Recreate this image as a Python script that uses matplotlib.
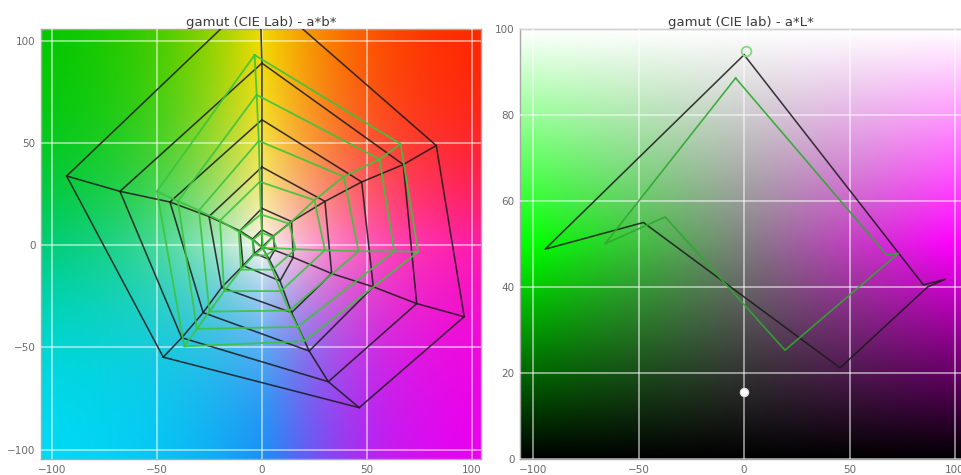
import numpy as np
import matplotlib
matplotlib.use("Agg")
import matplotlib.pyplot as plt

# ---------------------------------------------------------------------------
# a*b* projection: gamut rings (outer -> inner), vertices ordered
# yellow, red, magenta, blue, cyan, green
# ---------------------------------------------------------------------------
BLACK_RINGS_A = [
    [-1.0, 83.0, 96.3, 46.3, -47.0, -93.0],
    [0.0, 67.3, 73.7, 31.6, -38.2, -67.6],
    [0.0, 47.5, 53.0, 22.5, -28.0, -43.8],
    [0.0, 30.0, 33.2, 14.1, -19.2, -25.2],
    [0.0, 14.1, 14.9, 8.6, -9.0, -10.5],
    [0.0, 5.5, 6.0, 3.5, -3.5, -4.5],
]
BLACK_RINGS_B = [
    [124.0, 48.7, -35.0, -79.5, -54.8, 33.8],
    [89.0, 39.4, -28.6, -66.8, -45.3, 26.3],
    [61.3, 30.9, -20.4, -51.8, -33.0, 21.1],
    [38.2, 21.4, -13.9, -33.0, -20.7, 14.0],
    [18.0, 11.5, -6.0, -17.5, -10.0, 7.0],
    [7.5, 4.5, -2.5, -7.0, -4.0, 3.0],
]
BLACK_CENTER = (0.0, -1.0)

GREEN_RINGS_A = [
    [-3.5, 66.0, 74.4, 20.0, -37.0, -50.0],
    [-2.5, 56.0, 63.0, 17.0, -31.0, -40.0],
    [-1.5, 39.0, 46.0, 13.0, -25.0, -30.0],
    [-1.0, 25.0, 30.0, 9.0, -18.0, -20.0],
    [-0.5, 13.0, 16.0, 5.0, -10.0, -11.0],
    [0.0, 5.0, 7.0, 2.0, -4.0, -4.5],
]
GREEN_RINGS_B = [
    [93.0, 49.5, -3.3, -47.0, -49.5, 26.3],
    [73.5, 42.0, -3.0, -40.0, -41.0, 21.5],
    [51.0, 33.5, -3.0, -32.0, -32.5, 17.0],
    [31.0, 22.0, -2.5, -22.5, -22.5, 12.0],
    [15.0, 10.5, -2.0, -12.0, -12.0, 6.5],
    [6.0, 4.0, -1.5, -5.0, -5.0, 2.5],
]
GREEN_CENTER = (0.5, -1.5)

# ---------------------------------------------------------------------------
# a*L* projection: gamut outlines and neutral points
# ---------------------------------------------------------------------------
AL_BLACK_A = [0.0, 85.0, 95.3, 87.0, 45.5, -47.7, -94.3, 0.0]
AL_BLACK_L = [94.0, 40.5, 41.8, 40.0, 21.2, 55.0, 48.8, 94.0]
AL_GREEN_A = [-4.0, 67.7, 73.2, 70.0, 19.4, -37.4, -66.0, -4.0]
AL_GREEN_L = [88.6, 47.4, 47.8, 46.5, 25.3, 56.3, 50.0, 88.6]
WHITE_POINT = (1.0, 95.0)
BLACK_POINT = (0.0, 15.6)

AB_TICKS = [-100, -50, 0, 50, 100]
A_TICKS = [-100, -50, 0, 50, 100]
L_TICKS = [0, 20, 40, 60, 80, 100]

AB_XLIM = (-105.2, 104.3)
AB_YLIM = (-104.6, 105.7)
AL_XLIM = (-106.2, 103.3)
AL_YLIM = (0, 100)

BLACK_LINE = dict(color="#1a1a1a", lw=1.15, alpha=0.85, solid_joinstyle="round")
GREEN_LINE = dict(color="#3cc43c", lw=1.3, alpha=0.9, solid_joinstyle="round")
GREEN_LINE_AL = dict(color="#2fa82f", lw=1.2, alpha=0.9, solid_joinstyle="round")


def _warp(x, k=1.7):
    """Smooth saturating map of [-105, 105] onto [-1, 1]."""
    return np.tanh(k * x / 105.0) / np.tanh(k)


def ab_plane(a, b):
    """Approximate display colours of the a*b* plane (white centre)."""
    u = np.clip(_warp(a), -1, 1)
    v = np.clip(_warp(b), -1, 1)
    nodes = np.array([
        # b = +1                     (a = -1, 0, +1)
        [[5, 200, 0], [242, 218, 0], [255, 40, 0]],
        # b = 0
        [[0, 205, 120], [250, 246, 238], [255, 28, 170]],
        # b = -1
        [[0, 218, 245], [25, 145, 245], [235, 0, 240]],
    ], dtype=float) / 255.0
    wu = [np.maximum(-u, 0), 1 - np.abs(u), np.maximum(u, 0)]
    wv = [np.maximum(v, 0), 1 - np.abs(v), np.maximum(-v, 0)]
    out = np.zeros(a.shape + (3,))
    for r in range(3):
        for c in range(3):
            out += (wv[r] * wu[c])[..., None] * nodes[r, c]
    return np.clip(out, 0, 1)


def al_plane(a, L):
    """Approximate display colours of the a*L* plane (green <-> magenta)."""
    lum = np.clip(L / 100.0, 0, 1)
    sat = np.clip(np.abs(a) / 100.0, 0, 1)
    chroma = (1 - np.abs(2 * lum - 1)) * sat
    hi = lum + chroma / 2
    lo = lum - chroma / 2
    green = a < 0
    r = np.where(green, lo, hi)
    g = np.where(green, hi, lo)
    return np.clip(np.dstack([r, g, r]), 0, 1)


def style_axes(ax, xticks, yticks):
    ax.set_xticks(xticks)
    ax.set_yticks(yticks)
    ax.tick_params(length=0, pad=4, labelsize=7.5, colors="#6a6a6a")
    ax.grid(True, color="white", alpha=0.55, lw=1.3, zorder=1)
    ax.set_axisbelow(False)
    for sp in ax.spines.values():
        sp.set_color("#a8a8a8")
        sp.set_linewidth(1.0)


fig = plt.figure(figsize=(9.62, 4.75), dpi=100)
fig.patch.set_facecolor("white")

# ---------------- left: a*b* ----------------
ax1 = fig.add_axes([41 / 962, 16 / 475, 440 / 962, 430 / 475])
ga, gb = np.meshgrid(np.linspace(*AB_XLIM, 500), np.linspace(*AB_YLIM, 500))
ax1.imshow(ab_plane(ga, gb), extent=(*AB_XLIM, *AB_YLIM), origin="lower",
           aspect="auto", interpolation="bilinear", zorder=0)


def draw_web(ax, rings_a, rings_b, center, style, z):
    ra = np.asarray(rings_a)
    rb = np.asarray(rings_b)
    for k in range(ra.shape[0]):
        ax.plot(np.append(ra[k], ra[k, 0]), np.append(rb[k], rb[k, 0]),
                zorder=z, **style)
    for j in range(ra.shape[1]):
        xs = np.concatenate([[center[0]], ra[::-1, j]])
        ys = np.concatenate([[center[1]], rb[::-1, j]])
        ax.plot(xs, ys, zorder=z, **style)


draw_web(ax1, BLACK_RINGS_A, BLACK_RINGS_B, BLACK_CENTER, BLACK_LINE, 3)
draw_web(ax1, GREEN_RINGS_A, GREEN_RINGS_B, GREEN_CENTER, GREEN_LINE, 4)

ax1.set_xlim(*AB_XLIM)
ax1.set_ylim(*AB_YLIM)
style_axes(ax1, AB_TICKS, AB_TICKS)
ax1.set_title("gamut (CIE Lab) - a*b*", fontsize=9.5, color="#3a3a3a", pad=1.5)

# ---------------- right: a*L* ----------------
ax2 = fig.add_axes([520 / 962, 16 / 475, 442 / 962, 430 / 475])
aa, ll = np.meshgrid(np.linspace(*AL_XLIM, 500), np.linspace(*AL_YLIM, 500))
ax2.imshow(al_plane(aa, ll), extent=(*AL_XLIM, *AL_YLIM), origin="lower",
           aspect="auto", interpolation="bilinear", zorder=0)

ax2.plot(AL_BLACK_A, AL_BLACK_L, zorder=3, **BLACK_LINE)
ax2.plot(AL_GREEN_A, AL_GREEN_L, zorder=4, **GREEN_LINE_AL)
ax2.plot(*WHITE_POINT, marker="o", ms=7, mfc="none", mec="#7fdc7f", mew=1.3,
         zorder=5)
ax2.plot(*BLACK_POINT, marker="o", ms=6, mfc="white", mec="#dddddd", mew=0.8,
         zorder=5)

ax2.set_xlim(*AL_XLIM)
ax2.set_ylim(*AL_YLIM)
style_axes(ax2, A_TICKS, L_TICKS)
ax2.set_title("gamut (CIE lab) - a*L*", fontsize=9.5, color="#3a3a3a", pad=1.5)

fig.savefig("out.png", dpi=100, facecolor="white")
